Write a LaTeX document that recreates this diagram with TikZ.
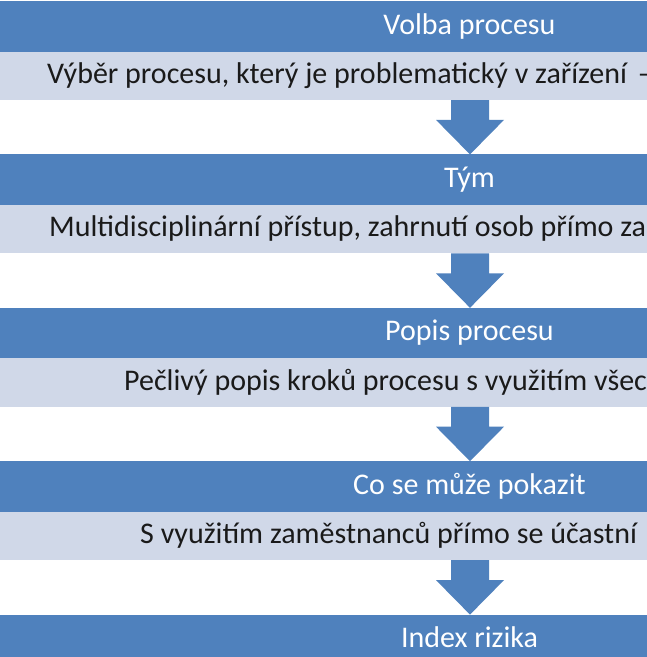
\documentclass[tikz,border=0pt]{standalone}
\usepackage{fontspec}
\setmainfont{Carlito}
\usetikzlibrary{calc}
\definecolor{hblue}{HTML}{4F81BD}
\definecolor{gband}{HTML}{D0D8E8}
\definecolor{dtext}{HTML}{1A1A1A}
\begin{document}
\begin{tikzpicture}[x=1pt,y=-1pt,
  hdr/.style={fill=hblue, draw=none, minimum width=950pt, minimum height=50.5pt, inner sep=0pt, outer sep=0pt, anchor=north west},
  gry/.style={fill=gband, draw=none, minimum width=950pt, minimum height=48.5pt, inner sep=0pt, outer sep=0pt, anchor=north west},
  htext/.style={text=white, font=\fontsize{30}{36}\selectfont, anchor=base, inner sep=0pt},
  gtext/.style={text=dtext, font=\fontsize{30}{36}\selectfont, anchor=base west, inner sep=0pt},
  blockarrow/.style={fill=hblue, draw=none}]
\useasboundingbox (0,0) rectangle (647,657);
\clip (0,0) rectangle (647,657);
\fill[white] (0,0) rectangle (647,657);
% bands
\node[hdr] (h1) at (-5,1) {};
\node[gry] (g1) at (-5,51.5) {};
\node[hdr] (h2) at (-5,154.4) {};
\node[gry] (g2) at (-5,204.9) {};
\node[hdr] (h3) at (-5,307.8) {};
\node[gry] (g3) at (-5,358.3) {};
\node[hdr] (h4) at (-5,461.2) {};
\node[gry] (g4) at (-5,511.7) {};
\node[hdr] (h5) at (-5,614.6) {};
% header texts
\node[htext] (t1) at (469.5,34) {Volba procesu};
\node[htext] (t2) at (469.5,187.4) {Tým};
\node[htext] (t3) at (469.5,340.8) {Popis procesu};
\node[htext] (t4) at (469.5,494.2) {Co se může pokazit};
\node[htext] (t5) at (469.5,647.6) {Index rizika};
% description texts
\node[gtext] (d1) at (47,83.5) {Výběr procesu, který je problematický v zařízení\hspace{11pt}–};
\node[gtext] (d2) at (49,236.9) {Multidisciplinární přístup, zahrnutí osob přímo za};
\node[gtext] (d3) at (124,390.3) {Pečlivý popis kroků procesu s využitím všech};
\node[gtext] (d4) at (140,543.7) {S využitím zaměstnanců přímo se účastní};
% arrows
\foreach \a/\b in {g1/h2, g2/h3, g3/h4, g4/h5}{
  \coordinate (s) at (\a.south -| 470,0);
  \coordinate (e) at (\b.north -| 470,0);
  \fill[blockarrow] ($(s)+(-19,0)$) -- ($(s)+(19,0)$) -- ($(e)+(19,-34.5)$) -- ($(e)+(34,-34.5)$)
     -- (e) -- ($(e)+(-34,-34.5)$) -- ($(e)+(-19,-34.5)$) -- cycle;
}
\end{tikzpicture}
\end{document}
